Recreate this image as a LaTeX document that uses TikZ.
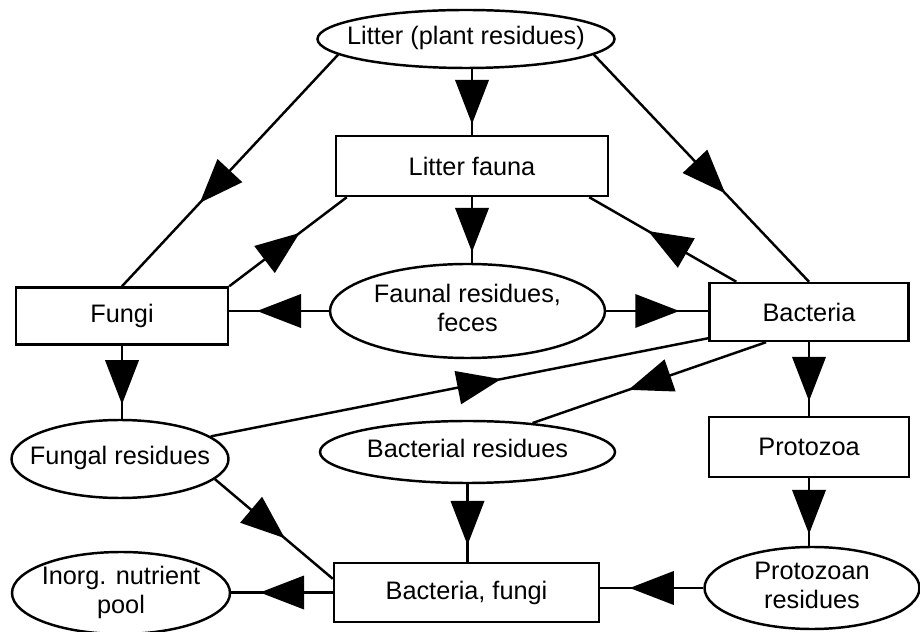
\documentclass[tikz,border=0pt]{standalone}
\usepackage{fontspec}
\setmainfont{Liberation Sans}
\usetikzlibrary{shapes.geometric,decorations.markings}
\newcommand{\ovtext}[1]{\makebox[0pt]{\begin{tabular}{@{}c@{}}#1\end{tabular}}}

\begin{document}
\begin{tikzpicture}
\useasboundingbox (0,0) rectangle (18.4,12.62);
\tikzstyle{every node}=[font=\fontsize{14.4pt}{16.5pt}\selectfont, line width=1.4pt];
\tikzstyle{box}=[draw, rectangle, align=center];
\tikzstyle{oval}=[draw, ellipse, inner sep=0pt];
\tikzset{flow/.style={draw, line width=1.4pt, postaction={decorate},
  decoration={markings, mark=at position #1 with {\fill (0.44,0) -- (-0.44,0.34) -- (-0.44,-0.34) -- cycle;}}},
  flow/.default=0.5};
% nodes
\path (9.32,11.84) node[oval, minimum width=5.94cm, minimum height=1.16cm] (v0) {\ovtext{Litter (plant residues)}};
\path (9.44,9.30) node[box, minimum width=5.44cm, minimum height=1.2cm] (v1) {Litter fauna};
\path (2.44,6.30) node[box, minimum width=4.24cm, minimum height=1.14cm] (v2) {Fungi};
\path (9.35,6.40) node[oval, minimum width=5.5cm, minimum height=1.88cm] (v3) {\ovtext{Faunal residues,\\ feces}};
\path (16.18,6.38) node[box, minimum width=3.98cm, minimum height=1.16cm] (v4) {Bacteria};
\path (2.40,3.44) node[oval, minimum width=4.34cm, minimum height=1.56cm] (v5) {\ovtext{Fungal residues}};
\path (9.35,3.58) node[oval, minimum width=5.9cm, minimum height=1.24cm] (v6) {\ovtext{Bacterial residues}};
\path (16.18,3.68) node[box, minimum width=4.0cm, minimum height=1.2cm] (v7) {Protozoa};
\path (2.42,0.76) node[oval, minimum width=4.36cm, minimum height=1.48cm] (v8) {\ovtext{Inorg. nutrient\\ pool}};
\path (9.33,0.77) node[box, minimum width=5.3cm, minimum height=1.18cm] (v9) {Bacteria, fungi};
\path (16.24,0.86) node[oval, minimum width=4.3cm, minimum height=1.64cm] (v10) {\ovtext{Protozoan\\ residues}};
% connectors
\draw[flow=0.57] (v0.187) -- (v2.north);
\draw[flow] (v0.south -| v1) -- (v1.north);
\draw[flow=0.54] (v0.353) -- (v4.north);
\draw[flow=0.45] (v2.north east) -- ([xshift=0.24cm]v1.south west);
\draw[flow] (v1.south) -- (v1.south |- v3.north);
\draw[flow=0.47] ([xshift=0.56cm]v4.north west) -- ([xshift=-0.4cm]v1.south east);
\draw[flow] (v3.west) -- (v3.west -| v2.east);
\draw[flow] (v3.east) -- (v3.east -| v4.west);
\draw[flow] (v2.south) -- (v2.south |- v5.north);
\draw[flow=0.54] (v5.14) -- ([yshift=0.08cm]v4.south west);
\draw[flow] ([xshift=-0.86cm]v4.south) -- (v6.24);
\draw[flow] (v4.south) -- (v4.south |- v7.north);
\draw[flow=0.45] (v5.348) -- ([yshift=-0.34cm]v9.north west);
\draw[flow] (v6.south) -- (v6.south |- v9.north);
\draw[flow] (v7.south) -- (v7.south |- v10.north);
\draw[flow] (v10.west) -- (v10.west -| v9.east);
\draw[flow] (v9.west) -- (v9.west -| v8.east);
\end{tikzpicture}
\end{document}
